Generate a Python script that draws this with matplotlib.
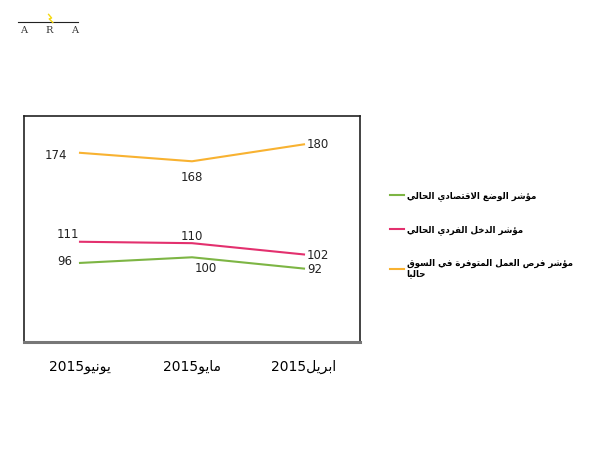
import matplotlib
matplotlib.use("Agg")
import matplotlib.pyplot as plt
from matplotlib.lines import Line2D

# donnees
mois = ["يونيو", "مايو", "ابريل"]
annee = "2015"
series_noms = [
    "مؤشر الوضع الاقتصادي الحالي",
    "مؤشر الدخل الفردي الحالي",
    "مؤشر فرص العمل المتوفرة في السوق|حاليا",
]
eco = [96, 100, 92]
revenu = [111, 110, 102]
emploi = [174, 168, 180]
couleurs = ["#7DB544", "#E3306E", "#F8B231"]

# mise en forme arabe (formes de presentation + ordre visuel)
FORMES = {
    "ا": ("\uFE8D", "\uFE8E", None, None),
    "ب": ("\uFE8F", "\uFE90", "\uFE91", "\uFE92"),
    "ة": ("\uFE93", "\uFE94", None, None),
    "ت": ("\uFE95", "\uFE96", "\uFE97", "\uFE98"),
    "ح": ("\uFEA1", "\uFEA2", "\uFEA3", "\uFEA4"),
    "خ": ("\uFEA5", "\uFEA6", "\uFEA7", "\uFEA8"),
    "د": ("\uFEA9", "\uFEAA", None, None),
    "ر": ("\uFEAD", "\uFEAE", None, None),
    "س": ("\uFEB1", "\uFEB2", "\uFEB3", "\uFEB4"),
    "ش": ("\uFEB5", "\uFEB6", "\uFEB7", "\uFEB8"),
    "ص": ("\uFEB9", "\uFEBA", "\uFEBB", "\uFEBC"),
    "ض": ("\uFEBD", "\uFEBE", "\uFEBF", "\uFEC0"),
    "ع": ("\uFEC9", "\uFECA", "\uFECB", "\uFECC"),
    "ف": ("\uFED1", "\uFED2", "\uFED3", "\uFED4"),
    "ق": ("\uFED5", "\uFED6", "\uFED7", "\uFED8"),
    "ل": ("\uFEDD", "\uFEDE", "\uFEDF", "\uFEE0"),
    "م": ("\uFEE1", "\uFEE2", "\uFEE3", "\uFEE4"),
    "ن": ("\uFEE5", "\uFEE6", "\uFEE7", "\uFEE8"),
    "و": ("\uFEED", "\uFEEE", None, None),
    "ي": ("\uFEF1", "\uFEF2", "\uFEF3", "\uFEF4"),
    "ؤ": ("\uFE85", "\uFE86", None, None),
}


def forme(mot):
    # ligature lam-alef
    lettres = []
    i = 0
    while i < len(mot):
        if mot[i] == "ل" and i + 1 < len(mot) and mot[i + 1] == "ا":
            lettres.append("LA")
            i += 2
        else:
            lettres.append(mot[i])
            i += 1
    res = []
    for k, c in enumerate(lettres):
        prev = lettres[k - 1] if k > 0 else None
        # la lettre precedente peut-elle se lier a gauche ?
        lie_avant = prev is not None and prev != "LA" and FORMES[prev][2] is not None
        if c == "LA":
            res.append("\uFEFC" if lie_avant else "\uFEFB")
            continue
        iso, fin, ini, med = FORMES[c]
        lie_apres = k + 1 < len(lettres) and ini is not None
        if lie_avant and lie_apres:
            res.append(med)
        elif lie_avant:
            res.append(fin)
        elif lie_apres:
            res.append(ini)
        else:
            res.append(iso)
    return "".join(res)


def arabe(phrase):
    mots = [forme(m) for m in phrase.split(" ")]
    return " ".join(m[::-1] for m in mots[::-1])


fig = plt.figure(figsize=(6, 4.5), dpi=100)
ax = fig.add_axes([0.04, 0.24, 0.56, 0.502])

x = range(len(mois))
lignes = []
for vals, c in zip([eco, revenu, emploi], couleurs):
    l, = ax.plot(x, vals, color=c, lw=1.5)
    lignes.append(l)

ax.set_xlim(-0.5, 2.5)
ax.set_ylim(40, 200)
ax.set_yticks([])
ax.set_xticks(list(x))
ax.set_xticklabels([annee + arabe(m) for m in mois], fontsize=10)
ax.tick_params(axis="x", length=0, pad=13)
for s in ["left", "top", "right"]:
    ax.spines[s].set_linewidth(1.2)
    ax.spines[s].set_color("#222222")
ax.spines["bottom"].set_linewidth(2.2)
ax.spines["bottom"].set_color("#777777")

# etiquettes des valeurs
decal = {
    "eco": [(-11, 1), (10, -8), (8, -1)],
    "revenu": [(-9, 5), (0, 5), (10, -1)],
    "emploi": [(-17, -2), (0, -12), (10, 0)],
}
for vals, cle in zip([eco, revenu, emploi], ["eco", "revenu", "emploi"]):
    for i, v in enumerate(vals):
        dx, dy = decal[cle][i]
        ax.annotate(str(v), (i, v), xytext=(dx, dy), textcoords="offset points",
                    ha="center", va="center", fontsize=8.5, color="#222222")

# legende
noms = [arabe(n.split("|")[0]) + ("\n" + arabe(n.split("|")[1]) if "|" in n else "")
        for n in series_noms]
leg = fig.legend(lignes, noms, loc="upper left", bbox_to_anchor=(0.637, 0.592),
                 frameon=False, handlelength=1.6, labelspacing=2.75,
                 handletextpad=0.35, prop={"weight": "bold", "size": 6.2})

# logo ARA
fig.add_artist(Line2D([0.03, 0.13], [0.952, 0.952], color="#222222", lw=0.8))
fig.add_artist(Line2D([0.081, 0.086, 0.082, 0.088], [0.968, 0.960, 0.958, 0.950],
                      color="#F5D90F", lw=1.0))
for xl, lettre in zip([0.04, 0.082, 0.124], "ARA"):
    fig.text(xl, 0.933, lettre, ha="center", va="center", fontsize=7,
             family="DejaVu Serif", color="#333333")

fig.savefig("out.png", dpi=100)
